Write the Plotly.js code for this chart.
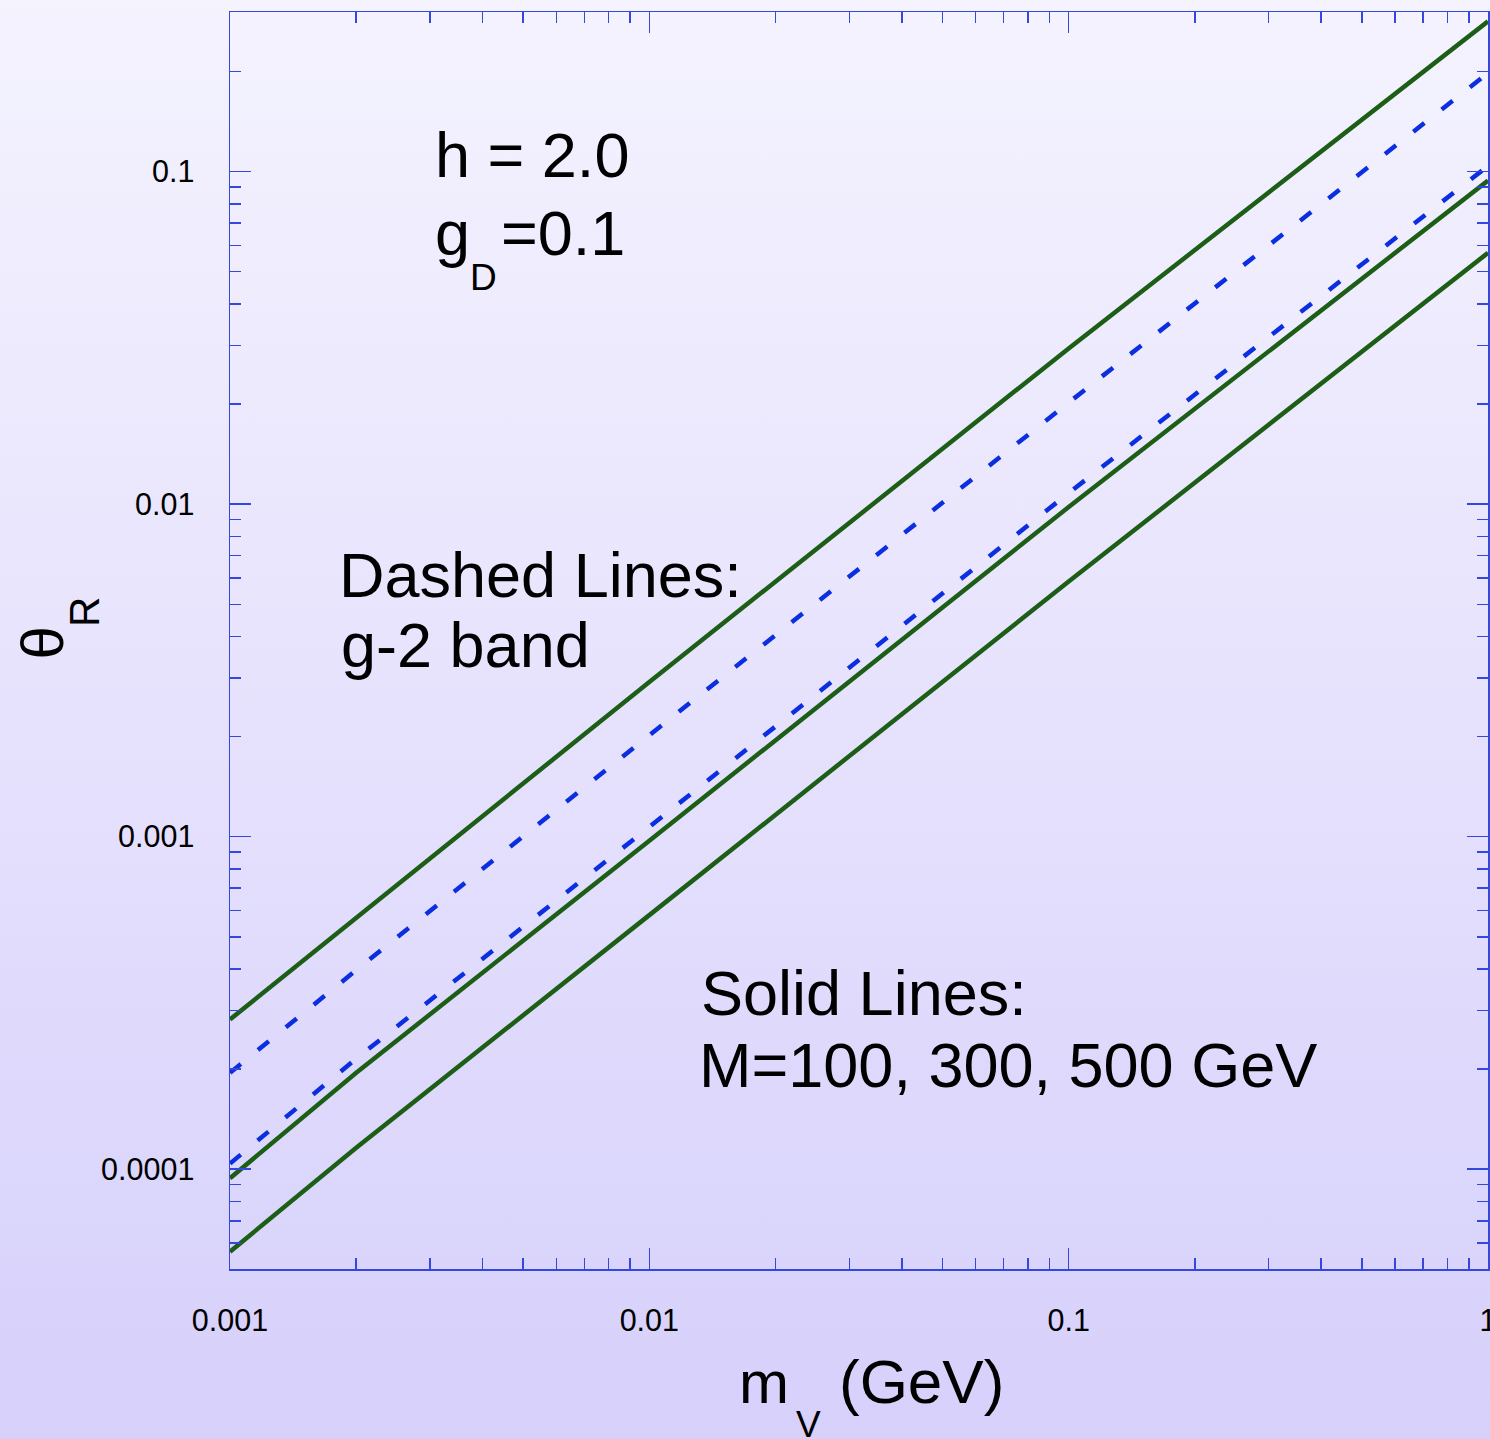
<!DOCTYPE html>
<html><head><meta charset="utf-8">
<script src="https://cdn.plot.ly/plotly-3.0.1.min.js"></script>
<style>
html,body{margin:0;padding:0;width:1490px;height:1439px;overflow:hidden;background:linear-gradient(to bottom,#f4f3fe 0%,#e6e2fd 50%,#d6d0fb 100%);}
#chart{width:1490px;height:1439px;}
</style></head><body><div id="chart"></div>
<script>
// ---- data ----
const massV = [0.001, 0.002, 0.01, 0.1, 1];            // m_V (GeV)
const solidUpper  = [2.82e-4, 5.70e-4, 2.92e-3, 0.0294, 0.283];
const dashedUpper = [1.95e-4, 3.97e-4, 2.02e-3, 0.0202, 0.198];
const dashedLower = [1.04e-4, 2.15e-4, 1.07e-3, 0.0108, 0.104];
const solidMiddle = [9.4e-5, 1.95e-4, 9.73e-4, 0.0098, 0.094];
const solidLower  = [5.65e-5, 1.16e-4, 5.81e-4, 0.00585, 0.057];
const xTickVals = [0.001, 0.01, 0.1, 1];
const xTickText = ['0.001', '0.01', '0.1', '1'];
const yTickVals = [0.0001, 0.001, 0.01, 0.1];
const yTickText = ['0.0001', '0.001', '0.01', '0.1'];

const W = 1490, H = 1439;
const M = {l: 230, r: 2, t: 12, b: 170};
const PW = W - M.l - M.r, PH = H - M.t - M.b;
const px = v => (v - M.l) / PW;
const py = v => 1 - (v - M.t) / PH;

const GREEN = '#1d5e17', BLUE = '#0a2ee0', AX = '#3448e0';
const FONT = 'Liberation Sans, Arial, Helvetica, sans-serif';

const solid = (y, n) => ({x: massV, y: y, name: n, mode: 'lines', type: 'scatter',
  line: {color: GREEN, width: 4.5}, hoverinfo: 'skip'});
const dashed = (y, n) => ({x: massV, y: y, name: n, mode: 'lines', type: 'scatter',
  line: {color: BLUE, width: 4.5, dash: '14px,22px'}, hoverinfo: 'skip'});

const traces = [
  solid(solidUpper, 'solid upper'),
  dashed(dashedUpper, 'g-2 upper'),
  dashed(dashedLower, 'g-2 lower'),
  solid(solidMiddle, 'solid middle'),
  solid(solidLower, 'solid lower')
];

function ann(text, xpx, basepx, size, extra) {
  const center = basepx - 0.3465 * size;
  return Object.assign({text: text, xref: 'paper', yref: 'paper', x: px(xpx), y: py(center),
    xanchor: 'left', yanchor: 'middle', showarrow: false, borderpad: 0,
    font: {family: FONT, size: size, color: '#000'}}, extra || {});
}

const annotations = [
  ann('h = 2.0', 434, 177, 63),
  ann('g', 434, 255, 63),
  ann('D', 469, 290, 37),
  ann('=0.1', 500, 255, 63),
  ann('Dashed Lines:', 338, 597, 63),
  ann('g-2 band', 340, 667, 63),
  ann('Solid Lines:', 700, 1015, 63),
  ann('M=100, 300, 500 GeV', 698, 1087, 63),
  ann('m', 738, 1403, 60),
  ann('V', 795, 1437, 37),
  ann('(GeV)', 838, 1403, 62),
  {text: 'θ', xref: 'paper', yref: 'paper', x: px(42), y: py(643.5), xanchor: 'center', yanchor: 'middle',
   textangle: -90, showarrow: false, borderpad: 0, font: {family: FONT, size: 60, color: '#000'}},
  {text: 'R', xref: 'paper', yref: 'paper', x: px(84.5), y: py(612.5), xanchor: 'center', yanchor: 'middle',
   textangle: -90, showarrow: false, borderpad: 0, font: {family: FONT, size: 42, color: '#000'}}
];

const axisCommon = {
  type: 'log', showgrid: false, zeroline: false, showline: true, linecolor: AX, linewidth: 1.5,
  mirror: 'allticks', ticks: 'inside', ticklen: 21, tickwidth: 1.5, tickcolor: AX,
  tickmode: 'array', ticklabeloverflow: 'allow', tickfont: {family: FONT, size: 30.5, color: '#000'},
  minor: {ticks: 'inside', ticklen: 11, tickwidth: 1.5, tickcolor: AX, dtick: 'D1', showgrid: false}
};

const layout = {
  width: W, height: H, margin: M, showlegend: false,
  paper_bgcolor: 'rgba(0,0,0,0)', plot_bgcolor: 'rgba(0,0,0,0)',
  xaxis: Object.assign({}, axisCommon, {range: [-3, 0], tickvals: xTickVals, ticktext: xTickText, ticklabelstandoff: 24}),
  yaxis: Object.assign({}, axisCommon, {range: [-4.30, -0.52], tickvals: yTickVals, ticktext: yTickText, ticklabelstandoff: 28}),
  annotations: annotations
};

Plotly.newPlot('chart', traces, layout, {staticPlot: true, displayModeBar: false});
</script></body></html>
